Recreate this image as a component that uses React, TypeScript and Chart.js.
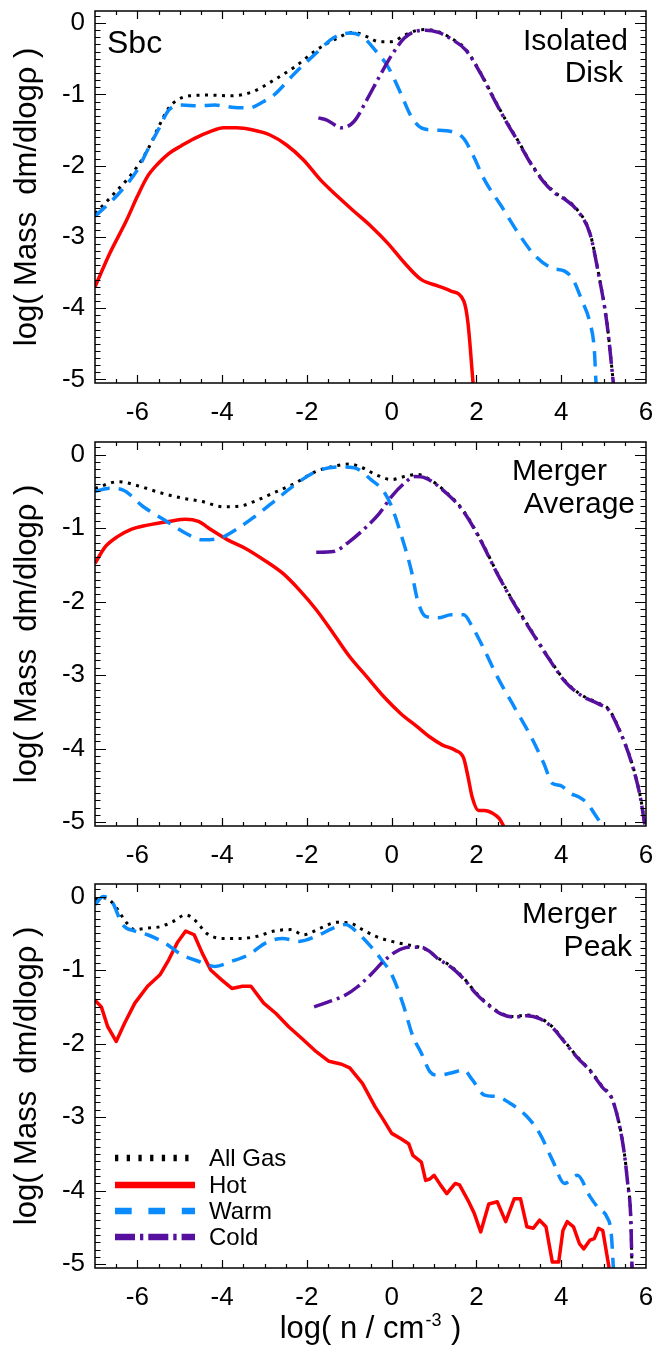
import React, { useEffect, useRef } from "react";
import { Chart, registerables } from "chart.js";

Chart.register(...registerables);

type Pt = [number, number];

const FONT = "'Liberation Sans', Arial, Helvetica, sans-serif";

// ---- axes / labels ----
const X_MIN = -7;
const X_MAX = 6;
const Y_MIN = -5.05;
const Y_MAX = 0.17;
const xTickValues = [-6, -4, -2, 0, 2, 4, 6];
const yTickValues = [0, -1, -2, -3, -4, -5];
const seriesNames = ["All Gas", "Hot", "Warm", "Cold"];
const galaxyName = "Sbc";
const panelTags = [
  ["Isolated", "Disk"],
  ["Merger", "Average"],
  ["Merger", "Peak"],
];
const yTitle = "log( Mass  dm/dlog\u03C1 )";
const xTitleMain = "log( n / cm";
const xTitleSup = "-3";
const xTitleEnd = " )";

// ---- Panel 1 : Isolated Disk ----
const p1AllGas: Pt[] = [
  [-7, -2.67], [-6.75, -2.52], [-6.5, -2.36], [-6.25, -2.2], [-6.0, -2.01], [-5.76, -1.78],
  [-5.51, -1.47], [-5.26, -1.19], [-5.06, -1.08], [-4.76, -1.02], [-4.27, -1.01], [-3.77, -1.02],
  [-3.27, -0.96], [-2.78, -0.8], [-2.28, -0.61], [-1.78, -0.38], [-1.28, -0.21], [-0.89, -0.13],
  [-0.59, -0.19], [-0.29, -0.26], [0.0, -0.26], [0.3, -0.17], [0.6, -0.1], [0.8, -0.09],
  [1.1, -0.12], [1.4, -0.21], [1.75, -0.37], [2.1, -0.7], [2.39, -1.03], [2.69, -1.36],
  [2.99, -1.66], [3.29, -1.97], [3.59, -2.22], [3.88, -2.39], [4.08, -2.46], [4.38, -2.62],
  [4.68, -2.95], [4.88, -3.51], [5.08, -4.21], [5.23, -5.05],
];
const p1Hot: Pt[] = [
  [-7, -3.7], [-6.65, -3.23], [-6.25, -2.76], [-6.0, -2.43], [-5.76, -2.15], [-5.51, -1.97],
  [-5.26, -1.83], [-4.96, -1.72], [-4.66, -1.62], [-4.27, -1.52], [-3.97, -1.47], [-3.67, -1.47],
  [-3.27, -1.5], [-2.87, -1.57], [-2.48, -1.71], [-2.08, -1.92], [-1.68, -2.2], [-1.28, -2.43],
  [-0.89, -2.64], [-0.49, -2.85], [-0.09, -3.09], [0.31, -3.37], [0.7, -3.6], [1.1, -3.69],
  [1.4, -3.76], [1.7, -3.9], [1.8, -4.21], [1.92, -5.05],
];
const p1Warm: Pt[] = [
  [-7, -2.71], [-6.5, -2.43], [-6.0, -2.06], [-5.76, -1.78], [-5.51, -1.5], [-5.26, -1.22],
  [-4.96, -1.15], [-4.56, -1.16], [-4.17, -1.15], [-3.77, -1.18], [-3.37, -1.19], [-3.02, -1.1],
  [-2.78, -1.01], [-2.28, -0.7], [-1.78, -0.42], [-1.38, -0.21], [-0.99, -0.14], [-0.69, -0.19],
  [-0.39, -0.38], [-0.09, -0.61], [0.21, -0.98], [0.46, -1.31], [0.7, -1.47], [1.0, -1.5],
  [1.4, -1.52], [1.7, -1.62], [1.9, -1.83], [2.19, -2.2], [2.59, -2.57], [2.99, -2.95],
  [3.39, -3.27], [3.79, -3.44], [4.08, -3.48], [4.28, -3.6], [4.48, -3.88], [4.68, -4.21],
  [4.78, -4.58], [4.82, -5.05],
];
const p1Cold: Pt[] = [
  [-1.73, -1.33], [-1.53, -1.36], [-1.18, -1.47], [-0.89, -1.38], [-0.59, -1.08], [-0.29, -0.75],
  [0.0, -0.45], [0.3, -0.21], [0.6, -0.11], [0.8, -0.1], [1.1, -0.13], [1.4, -0.22],
  [1.75, -0.38], [2.1, -0.71], [2.39, -1.04], [2.69, -1.37], [2.99, -1.67], [3.29, -1.98],
  [3.59, -2.23], [3.88, -2.4], [4.08, -2.47], [4.38, -2.63], [4.68, -2.96], [4.88, -3.52],
  [5.08, -4.22], [5.23, -5.05],
];

// ---- Panel 2 : Merger Average ----
const p2AllGas: Pt[] = [
  [-7, -0.46], [-6.45, -0.37], [-5.96, -0.43], [-5.46, -0.52], [-4.96, -0.59], [-4.47, -0.64],
  [-3.97, -0.71], [-3.57, -0.7], [-3.17, -0.62], [-2.78, -0.52], [-2.28, -0.39], [-1.78, -0.23],
  [-1.28, -0.15], [-0.99, -0.13], [-0.69, -0.18], [-0.39, -0.27], [0.0, -0.34], [0.3, -0.3],
  [0.6, -0.27], [0.9, -0.34], [1.3, -0.52], [1.7, -0.77], [2.1, -1.16], [2.49, -1.61],
  [2.89, -2.02], [3.29, -2.39], [3.69, -2.75], [4.08, -3.07], [4.48, -3.27], [4.88, -3.38],
  [5.13, -3.47], [5.38, -3.75], [5.67, -4.2], [5.87, -4.66], [5.97, -5.02],
];
const p2Hot: Pt[] = [
  [-7, -1.48], [-6.75, -1.25], [-6.45, -1.11], [-6.16, -1.02], [-5.76, -0.96], [-5.26, -0.91],
  [-4.86, -0.88], [-4.56, -0.91], [-4.27, -1.02], [-3.87, -1.16], [-3.47, -1.27], [-2.97, -1.45],
  [-2.58, -1.61], [-2.18, -1.84], [-1.78, -2.11], [-1.38, -2.43], [-0.99, -2.75], [-0.59, -3.02],
  [-0.19, -3.29], [0.21, -3.52], [0.6, -3.7], [0.9, -3.84], [1.2, -3.95], [1.5, -4.02],
  [1.7, -4.13], [1.8, -4.38], [1.9, -4.66], [2.05, -4.84], [2.19, -4.84], [2.39, -4.88],
  [2.54, -4.95], [2.64, -5.05],
];
const p2Warm: Pt[] = [
  [-7, -0.5], [-6.65, -0.46], [-6.35, -0.48], [-5.86, -0.71], [-5.36, -0.89], [-4.86, -1.07],
  [-4.47, -1.16], [-4.07, -1.14], [-3.67, -1.02], [-3.27, -0.86], [-2.78, -0.64], [-2.28, -0.41],
  [-1.78, -0.23], [-1.28, -0.17], [-0.89, -0.18], [-0.49, -0.34], [-0.19, -0.5], [0.0, -0.71],
  [0.21, -1.07], [0.46, -1.57], [0.61, -1.98], [0.8, -2.2], [1.1, -2.22], [1.4, -2.18],
  [1.7, -2.18], [1.9, -2.34], [2.19, -2.66], [2.49, -3.02], [2.89, -3.43], [3.29, -3.84],
  [3.59, -4.2], [3.79, -4.47], [3.98, -4.5], [4.23, -4.61], [4.43, -4.66], [4.63, -4.75],
  [4.78, -4.88], [4.98, -5.05],
];
const p2Cold: Pt[] = [
  [-1.78, -1.33], [-1.38, -1.32], [-0.99, -1.18], [-0.59, -0.98], [-0.29, -0.8], [0.0, -0.57],
  [0.3, -0.39], [0.55, -0.3], [0.8, -0.32], [1.3, -0.53], [1.7, -0.78], [2.1, -1.17],
  [2.49, -1.62], [2.89, -2.03], [3.29, -2.4], [3.69, -2.76], [4.08, -3.08], [4.48, -3.28],
  [4.88, -3.39], [5.13, -3.48], [5.38, -3.76], [5.67, -4.21], [5.87, -4.67], [5.97, -5.03],
];

// ---- Panel 3 : Merger Peak ----
const p3AllGas: Pt[] = [
  [-7, -0.04], [-6.75, -0.02], [-6.55, -0.11], [-6.25, -0.36], [-6.06, -0.45], [-5.76, -0.43],
  [-5.46, -0.41], [-5.16, -0.34], [-4.86, -0.25], [-4.61, -0.34], [-4.37, -0.5], [-3.97, -0.57],
  [-3.57, -0.57], [-3.17, -0.54], [-2.78, -0.47], [-2.38, -0.45], [-2.08, -0.52], [-1.68, -0.43],
  [-1.28, -0.35], [-0.99, -0.36], [-0.69, -0.45], [-0.39, -0.54], [0.0, -0.61], [0.4, -0.66],
  [0.8, -0.72], [1.1, -0.84], [1.4, -0.95], [1.7, -1.11], [1.99, -1.31], [2.29, -1.47],
  [2.59, -1.59], [2.89, -1.63], [3.19, -1.61], [3.49, -1.65], [3.79, -1.77], [4.08, -1.97],
  [4.38, -2.18], [4.68, -2.36], [4.98, -2.59], [5.18, -2.72], [5.33, -2.99], [5.48, -3.45],
  [5.57, -3.9], [5.64, -4.36], [5.67, -5.05],
];
const p3Hot: Pt[] = [
  [-7, -1.41], [-6.85, -1.5], [-6.7, -1.77], [-6.5, -1.97], [-6.3, -1.72], [-6.06, -1.45],
  [-5.76, -1.22], [-5.46, -1.06], [-5.26, -0.86], [-5.06, -0.63], [-4.86, -0.47], [-4.66, -0.52],
  [-4.47, -0.77], [-4.27, -1.0], [-4.02, -1.13], [-3.77, -1.25], [-3.52, -1.22], [-3.32, -1.22],
  [-3.02, -1.45], [-2.73, -1.59], [-2.43, -1.77], [-2.08, -1.95], [-1.78, -2.11], [-1.48, -2.24],
  [-1.18, -2.28], [-0.99, -2.33], [-0.69, -2.54], [-0.39, -2.86], [-0.19, -3.04], [0.0, -3.22],
  [0.21, -3.29], [0.4, -3.36], [0.5, -3.52], [0.7, -3.61], [0.8, -3.86], [0.9, -3.84],
  [1.0, -3.79], [1.15, -3.92], [1.3, -4.04], [1.5, -3.9], [1.6, -3.92], [1.8, -4.13],
  [1.95, -4.31], [2.1, -4.56], [2.29, -4.18], [2.49, -4.15], [2.69, -4.42], [2.89, -4.11],
  [3.04, -4.11], [3.19, -4.49], [3.34, -4.51], [3.49, -4.4], [3.64, -4.49], [3.79, -4.97],
  [3.94, -4.97], [4.04, -4.54], [4.14, -4.42], [4.29, -4.49], [4.43, -4.72], [4.53, -4.79],
  [4.68, -4.67], [4.78, -4.65], [4.88, -4.51], [4.98, -4.54], [5.13, -5.05],
];
const p3Warm: Pt[] = [
  [-7, -0.11], [-6.8, 0.0], [-6.6, -0.07], [-6.35, -0.38], [-6.06, -0.47], [-5.76, -0.52],
  [-5.36, -0.63], [-4.96, -0.79], [-4.56, -0.88], [-4.17, -0.95], [-3.77, -0.88], [-3.37, -0.79],
  [-2.97, -0.63], [-2.58, -0.57], [-2.18, -0.61], [-1.78, -0.54], [-1.38, -0.43], [-1.09, -0.38],
  [-0.79, -0.5], [-0.49, -0.68], [-0.24, -0.86], [0.0, -1.06], [0.26, -1.45], [0.5, -1.9],
  [0.7, -2.13], [0.9, -2.38], [1.1, -2.43], [1.4, -2.4], [1.7, -2.36], [1.9, -2.49],
  [2.19, -2.7], [2.49, -2.72], [2.79, -2.81], [3.19, -2.99], [3.49, -3.22], [3.79, -3.58],
  [4.08, -3.9], [4.38, -3.79], [4.68, -4.08], [4.88, -4.24], [5.08, -4.36], [5.18, -4.58],
  [5.23, -5.05],
];
const p3Cold: Pt[] = [
  [-1.83, -1.5], [-1.48, -1.43], [-1.09, -1.34], [-0.79, -1.22], [-0.49, -1.06], [-0.19, -0.88],
  [0.1, -0.75], [0.4, -0.69], [0.7, -0.69], [0.9, -0.75], [1.1, -0.85], [1.4, -0.96],
  [1.7, -1.12], [1.99, -1.32], [2.29, -1.48], [2.59, -1.6], [2.89, -1.64], [3.19, -1.62],
  [3.49, -1.66], [3.79, -1.78], [4.08, -1.98], [4.38, -2.19], [4.68, -2.37], [4.98, -2.6],
  [5.18, -2.73], [5.33, -3.0], [5.48, -3.46], [5.57, -3.91], [5.64, -4.37], [5.67, -5.05],
];

// ---- styles ----
const seriesColors = ["#000000", "#ff0000", "#0a8cff", "#560f9e"];
const lineWidths = [3, 3.5, 3.5, 3.5];
const plotDash: number[][] = [[3, 5.5], [], [15, 9], [19, 5, 3, 5]];
const legendDash: number[][] = [[3.3, 8.4], [], [16.7, 16.7], [20, 5, 3.3, 5]];

type PanelSpec = {
  top: number;
  height: number;
  areaTop: number;
  areaBottom: number;
  series: Pt[][];
  jagged: boolean[];
  tag: string[];
  tagPos: { x: number; y: number }[];
  showName: boolean;
  showLegend: boolean;
  showXTitle: boolean;
};

const panels: PanelSpec[] = [
  {
    top: 0, height: 440, areaTop: 11, areaBottom: 383,
    series: [p1AllGas, p1Hot, p1Warm, p1Cold], jagged: [false, false, false, false],
    tag: panelTags[0], tagPos: [{ x: 628, y: 50 }, { x: 623, y: 82 }],
    showName: true, showLegend: false, showXTitle: false,
  },
  {
    top: 440, height: 440, areaTop: 2, areaBottom: 386,
    series: [p2AllGas, p2Hot, p2Warm, p2Cold], jagged: [false, false, false, false],
    tag: panelTags[1], tagPos: [{ x: 607, y: 40 }, { x: 635, y: 73 }],
    showName: false, showLegend: false, showXTitle: false,
  },
  {
    top: 880, height: 476, areaTop: 4, areaBottom: 388,
    series: [p3AllGas, p3Hot, p3Warm, p3Cold], jagged: [false, true, false, false],
    tag: panelTags[2], tagPos: [{ x: 617, y: 43 }, { x: 632, y: 76 }],
    showName: false, showLegend: true, showXTitle: true,
  },
];

function decorPlugin(spec: PanelSpec) {
  return {
    id: "decor",
    afterDatasetsDraw(chart: any) {
      const { ctx, chartArea: a } = chart;
      const xs = chart.scales.x;
      const ys = chart.scales.y;
      ctx.save();
      ctx.setLineDash([]);
      ctx.strokeStyle = "#000";
      ctx.lineWidth = 1.5;
      ctx.strokeRect(a.left, a.top, a.right - a.left, a.bottom - a.top);
      ctx.lineWidth = 1.2;
      ctx.beginPath();
      for (let i = -65; i < 60; i += 5) {
        const v = i / 10;
        const major = xTickValues.includes(v);
        const len = major ? 8 : 4;
        const px = Math.round(xs.getPixelForValue(v)) + 0.5;
        ctx.moveTo(px, a.bottom);
        ctx.lineTo(px, a.bottom - len);
        ctx.moveTo(px, a.top);
        ctx.lineTo(px, a.top + len);
      }
      for (let i = -50; i <= 1; i++) {
        const v = i / 10;
        const major = i % 10 === 0;
        const len = major ? 11 : 5.5;
        const py = Math.round(ys.getPixelForValue(v)) + 0.5;
        ctx.moveTo(a.left, py);
        ctx.lineTo(a.left + len, py);
        ctx.moveTo(a.right, py);
        ctx.lineTo(a.right - len, py);
      }
      ctx.stroke();

      ctx.fillStyle = "#000";
      ctx.textBaseline = "alphabetic";
      if (spec.showName) {
        ctx.font = `32px ${FONT}`;
        ctx.textAlign = "left";
        ctx.fillText(galaxyName, 107, 53);
      }
      ctx.font = `30px ${FONT}`;
      ctx.textAlign = "right";
      spec.tag.forEach((t, i) => ctx.fillText(t, spec.tagPos[i].x, spec.tagPos[i].y));

      if (spec.showLegend) {
        const rows = [278, 305, 331, 357];
        seriesNames.forEach((name, i) => {
          ctx.beginPath();
          ctx.setLineDash(legendDash[i]);
          ctx.lineCap = "butt";
          ctx.lineWidth = 6.5;
          ctx.strokeStyle = seriesColors[i];
          ctx.moveTo(115, rows[i]);
          ctx.lineTo(195, rows[i]);
          ctx.stroke();
          ctx.setLineDash([]);
          ctx.font = `24px ${FONT}`;
          ctx.textAlign = "left";
          ctx.textBaseline = "middle";
          ctx.fillStyle = "#000";
          ctx.fillText(name, 209, rows[i] + 1);
        });
      }

      if (spec.showXTitle) {
        const big = `31px ${FONT}`;
        const small = `18px ${FONT}`;
        ctx.textBaseline = "alphabetic";
        ctx.textAlign = "left";
        ctx.font = big;
        const w1 = ctx.measureText(xTitleMain).width;
        const w3 = ctx.measureText(xTitleEnd).width;
        ctx.font = small;
        const w2 = ctx.measureText(xTitleSup).width + 2;
        const total = w1 + w2 + w3;
        const cx = (a.left + a.right) / 2;
        let x = cx - total / 2;
        const base = 458;
        ctx.font = big;
        ctx.fillText(xTitleMain, x, base);
        x += w1 + 1;
        ctx.font = small;
        ctx.fillText(xTitleSup, x, base - 12);
        x += w2 - 1;
        ctx.font = big;
        ctx.fillText(xTitleEnd, x, base);
      }
      ctx.restore();
    },
  };
}

function buildConfig(spec: PanelSpec): any {
  const H = spec.height;
  const datasets = spec.series.map((pts, i) => ({
    label: seriesNames[i],
    data: pts.map(([x, y]) => ({ x, y })),
    borderColor: seriesColors[i],
    backgroundColor: seriesColors[i],
    borderWidth: lineWidths[i],
    borderDash: plotDash[i],
    borderCapStyle: "butt",
    borderJoinStyle: "round",
    pointRadius: 0,
    fill: false,
    tension: 0,
    cubicInterpolationMode: spec.jagged[i] ? "default" : "monotone",
    order: 4 - i,
  }));
  return {
    type: "line",
    data: { datasets },
    options: {
      animation: false,
      responsive: false,
      maintainAspectRatio: false,
      events: [],
      layout: { padding: { left: 0, right: 663 - 646, top: spec.areaTop, bottom: 0 } },
      plugins: { legend: { display: false }, tooltip: { enabled: false } },
      scales: {
        x: {
          type: "linear",
          min: X_MIN,
          max: X_MAX,
          grid: { display: false, drawTicks: false },
          border: { display: false },
          ticks: {
            color: "#000",
            font: { family: FONT, size: 26 },
            padding: 14,
            maxRotation: 0,
            autoSkip: false,
            callback: (v: number) => String(v),
          },
          afterBuildTicks: (s: any) => {
            s.ticks = xTickValues.map((v) => ({ value: v }));
          },
          afterFit: (s: any) => {
            s.height = H - spec.areaBottom;
            s.paddingLeft = 0;
            s.paddingRight = 0;
          },
        },
        y: {
          type: "linear",
          min: Y_MIN,
          max: Y_MAX,
          grid: { display: false, drawTicks: false },
          border: { display: false },
          ticks: {
            color: "#000",
            font: { family: FONT, size: 26 },
            padding: 10,
            autoSkip: false,
            callback: (v: number) => String(v),
          },
          afterBuildTicks: (s: any) => {
            s.ticks = yTickValues.map((v) => ({ value: v }));
          },
          afterFit: (s: any) => {
            s.width = 95;
            s.paddingTop = 0;
            s.paddingBottom = 0;
          },
          title: {
            display: true,
            text: yTitle,
            color: "#000",
            font: { family: FONT, size: 31 },
            padding: { top: 9, bottom: 0 },
          },
        },
      },
    },
    plugins: [decorPlugin(spec)],
  };
}

function Panel({ spec }: { spec: PanelSpec }) {
  const ref = useRef<HTMLCanvasElement>(null);
  useEffect(() => {
    const chart = new Chart(ref.current as HTMLCanvasElement, buildConfig(spec));
    return () => chart.destroy();
  }, [spec]);
  return (
    <canvas
      ref={ref}
      width={663}
      height={spec.height}
      style={{ position: "absolute", left: 0, top: spec.top, width: 663, height: spec.height, display: "block" }}
    />
  );
}

export default function App() {
  return (
    <div style={{ position: "absolute", left: 0, top: 0, width: 663, height: 1356, background: "#fff", overflow: "hidden" }}>
      {panels.map((p, i) => (
        <Panel key={i} spec={p} />
      ))}
    </div>
  );
}
